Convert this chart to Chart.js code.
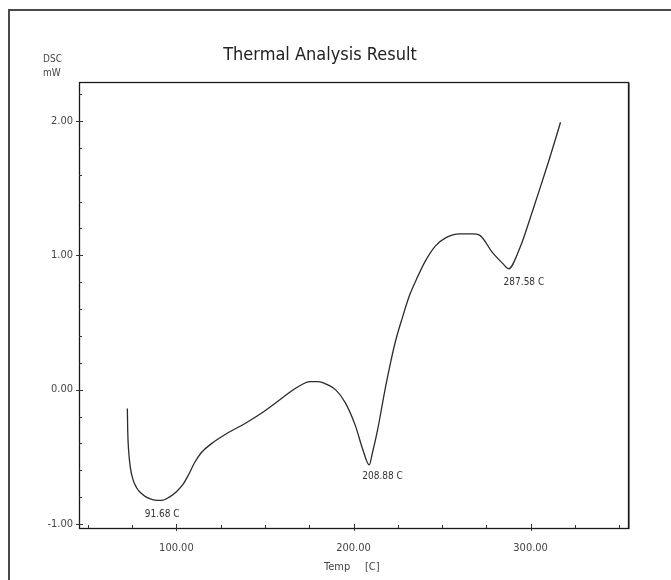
<!DOCTYPE html>
<html>
<head>
<meta charset="utf-8">
<title>Thermal Analysis Result</title>
<script src="https://cdn.jsdelivr.net/npm/chart.js@4/dist/chart.umd.min.js"></script>
<style>
  html, body { margin: 0; padding: 0; background: #ffffff; }
  #wrap { width: 671px; height: 580px; position: relative; }
</style>
</head>
<body>
<div id="wrap"><canvas id="dsc" width="671" height="580"></canvas></div>
<script>
// DSC trace: temperature [C] and heat flow [mW]
const temps = [72.3, 72.5, 73.0, 74.0, 75.5, 77.5, 80.0, 83.0, 87.0, 91.68,
  96.0, 100.0, 104.0, 107.0, 110.0, 114.0, 120.0, 128.0, 139.0, 148.6,
  159.9, 165.0, 171.2, 175.1, 179.7, 183.0, 189.8, 195.5, 201.1, 205.1,
  208.88, 210.7, 213.6, 216.4, 218.1, 220.9, 223.7, 227.7, 231.6, 236.2,
  240.7, 246.3, 252.0, 259.9, 267.2, 271.2, 278.5, 284.2, 287.58, 293.8,
  301.1, 306.8, 310.7, 316.9];
const dsc = [-0.14, -0.30, -0.45, -0.58, -0.67, -0.73, -0.77, -0.80, -0.82, -0.825,
  -0.80, -0.76, -0.70, -0.63, -0.55, -0.47, -0.40, -0.33, -0.25, -0.17,
  -0.06, -0.01, 0.04, 0.06, 0.06, 0.05, 0.00, -0.10, -0.27, -0.44,
  -0.56, -0.47, -0.30, -0.10, 0.02, 0.20, 0.36, 0.54, 0.70, 0.84,
  0.96, 1.07, 1.13, 1.16, 1.16, 1.15, 1.02, 0.94, 0.90, 1.05,
  1.33, 1.56, 1.72, 1.99];

// Peak temperatures that get annotated
const peakTemps = [91.68, 208.88, 287.58];

// Axis ticks
const xTicks = [100, 200, 300];
const yTicks = [-1, 0, 1, 2];
const xMinorStep = 25;
const yMinorStep = 0.2;

const FONT = '"Liberation Sans Narrow", "DejaVu Sans Condensed", "Liberation Sans", sans-serif';

const points = temps.map((t, i) => ({ x: t, y: dsc[i] }));

// Frame, tick marks and text drawn on top of the chart
const decorations = {
  id: 'decorations',
  afterDraw(chart) {
    const ctx = chart.ctx;
    const a = chart.chartArea;
    const xs = chart.scales.x;
    const ys = chart.scales.y;
    ctx.save();

    // outer window frame
    ctx.strokeStyle = '#4a4a4a';
    ctx.lineWidth = 2;
    ctx.beginPath();
    ctx.moveTo(9, 580);
    ctx.lineTo(9, 10);
    ctx.lineTo(671, 10);
    ctx.stroke();

    // plot box
    ctx.strokeStyle = '#8a8a8a';
    ctx.lineWidth = 1;
    ctx.beginPath();
    ctx.moveTo(a.right + 1.5, a.top + 1);
    ctx.lineTo(a.right + 1.5, a.bottom + 1);
    ctx.stroke();
    ctx.strokeStyle = '#1a1a1a';
    ctx.lineWidth = 1.3;
    ctx.strokeRect(a.left + 0.5, a.top + 0.5, a.right - a.left, a.bottom - a.top);

    // y tick marks
    ctx.strokeStyle = '#333';
    ctx.lineWidth = 1;
    ctx.beginPath();
    for (let v = -1; v <= 2.21; v += yMinorStep) {
      const py = Math.round(ys.getPixelForValue(v)) + 0.5;
      const major = Math.abs(v - Math.round(v)) < 1e-6;
      ctx.moveTo(a.left - (major ? 3 : 0), py);
      ctx.lineTo(a.left + (major ? 4 : 3), py);
    }
    // x tick marks
    for (let v = 50; v <= 350; v += xMinorStep) {
      const px = Math.round(xs.getPixelForValue(v)) + 0.5;
      const major = v % 100 === 0;
      ctx.moveTo(px, a.bottom + (major ? 3 : 0));
      ctx.lineTo(px, a.bottom - (major ? 4 : 3));
    }
    ctx.stroke();

    // title and axis captions
    ctx.fillStyle = '#222';
    ctx.textBaseline = 'middle';
    ctx.textAlign = 'center';
    ctx.font = '18px ' + FONT;
    ctx.fillText('Thermal Analysis Result', 320, 55);

    ctx.fillStyle = '#444';
    ctx.font = '10px ' + FONT;
    ctx.textAlign = 'left';
    ctx.fillText('DSC', 43, 59);
    ctx.fillText('mW', 43, 73);

    ctx.font = '11px ' + FONT;
    ctx.fillText('Temp', 324, 567);
    ctx.fillText('[C]', 365, 567);

    // peak annotations
    const offsets = [[-17, 14], [-7, 12], [-5, 14]];
    ctx.font = '10px ' + FONT;
    ctx.fillStyle = '#333';
    peakTemps.forEach((t, k) => {
      const i = temps.indexOf(t);
      const px = xs.getPixelForValue(t);
      const py = ys.getPixelForValue(dsc[i]);
      ctx.fillText(t.toFixed(2) + ' C', px + offsets[k][0], py + offsets[k][1]);
    });

    ctx.restore();
  }
};

new Chart(document.getElementById('dsc'), {
  type: 'line',
  data: {
    datasets: [{
      data: points,
      borderColor: '#2b2b2b',
      borderWidth: 1.3,
      pointRadius: 0,
      fill: false,
      cubicInterpolationMode: 'monotone'
    }]
  },
  options: {
    responsive: false,
    animation: false,
    layout: { padding: { top: 82, right: 43, bottom: 0, left: 0 } },
    plugins: { legend: { display: false }, tooltip: { enabled: false }, title: { display: false } },
    scales: {
      x: {
        type: 'linear',
        min: 45,
        max: 355,
        grid: { display: false, drawTicks: false },
        border: { display: false },
        afterBuildTicks(scale) { scale.ticks = xTicks.map(v => ({ value: v })); },
        afterFit(scale) { scale.height = 52; },
        ticks: {
          padding: 14,
          color: '#444',
          font: { family: FONT, size: 11 },
          callback: v => Number(v).toFixed(2)
        }
      },
      y: {
        type: 'linear',
        min: -1.03,
        max: 2.29,
        grid: { display: false, drawTicks: false },
        border: { display: false },
        afterBuildTicks(scale) { scale.ticks = yTicks.map(v => ({ value: v })); },
        afterFit(scale) { scale.width = 79; },
        ticks: {
          padding: 6,
          color: '#444',
          font: { family: FONT, size: 11 },
          callback: v => Number(v).toFixed(2)
        }
      }
    }
  },
  plugins: [decorations]
});
</script>
</body>
</html>
